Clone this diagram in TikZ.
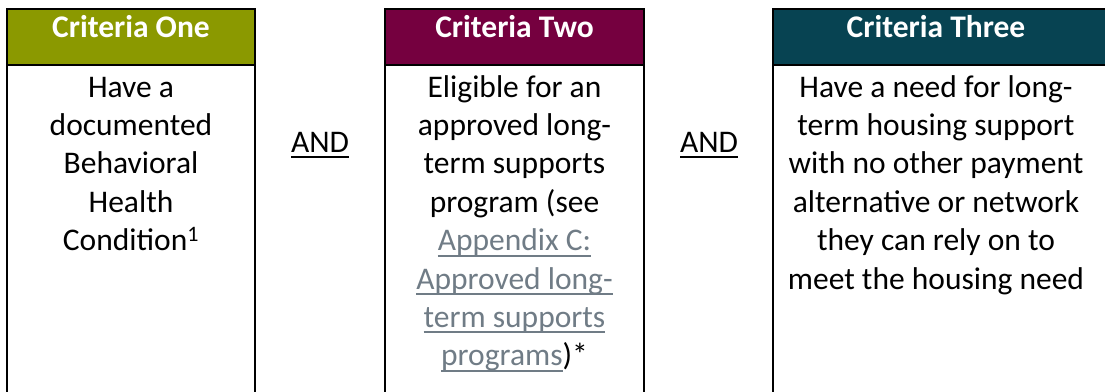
\documentclass[tikz,border=0pt]{standalone}
\usepackage{fontspec}
\setmainfont{Carlito}
\definecolor{olivehead}{RGB}{139,153,0}
\definecolor{maroonhead}{RGB}{117,0,63}
\definecolor{tealhead}{RGB}{7,67,82}
\definecolor{linkgray}{RGB}{112,124,134}
\newcommand\ulink[1]{\setbox0\hbox{\textcolor{linkgray}{#1}}\rlap{\textcolor{linkgray}{\rule[-6pt]{\wd0}{2pt}}}\box0}
\newcommand\ulblack[1]{\setbox0\hbox{#1}\rlap{\rule[-5.5pt]{\wd0}{2pt}}\box0}
\begin{document}
\begin{tikzpicture}[x=1pt,y=-1pt,
  head/.style={font=\bfseries\fontsize{31.5}{38.4}\selectfont, text=white, anchor=base, inner sep=0pt},
  body/.style={font=\fontsize{31.5}{38.4}\selectfont, align=center, anchor=base, inner sep=0pt},
  frame/.style={line width=2pt, draw=black}]
\useasboundingbox (0,0) rectangle (1105,391);
\clip (0,0) rectangle (1105,391);
\fill[white] (0,0) rectangle (1105,391);
% box 1
\fill[olivehead] (7,9) rectangle (255,65);
\draw[frame] (7,430) -- (7,9) -- (255,9) -- (255,430);
\draw[frame] (7,65) -- (255,65);
% box 2
\fill[maroonhead] (385,9) rectangle (644,65);
\draw[frame] (385,430) -- (385,9) -- (644,9) -- (644,430);
\draw[frame] (385,65) -- (644,65);
% box 3
\fill[tealhead] (773,9) rectangle (1110,65);
\draw[frame] (773,430) -- (773,9) -- (1110,9) -- (1110,430);
\draw[frame] (773,65) -- (1110,65);
% headers
\node[head] (h1) at (131,37) {Criteria One};
\node[head] (h2) at (514.5,37) {Criteria Two};
\node[head] (h3) at (936,37) {Criteria Three};
% bodies (anchor = baseline of last line)
\node[body] (b1) at (131,250.6) {Have a\\documented\\Behavioral\\Health\\Condition\textsuperscript{1}};
\node[body] (b2) at (514.5,365.8) {Eligible for an\\approved long-\\term supports\\program (see\\\ulink{Appendix C:}\\\ulink{Approved long-}\\\ulink{term supports}\\\ulink{programs})*};
\node[body] (b3) at (936,289) {Have a need for long-\\term housing support\\with no other payment\\alternative or network\\they can rely on to\\meet the housing need};
% AND labels
\node[body] (and1) at (320,152) {\ulblack{AND}};
\node[body] (and2) at (709,152) {\ulblack{AND}};
\end{tikzpicture}
\end{document}
